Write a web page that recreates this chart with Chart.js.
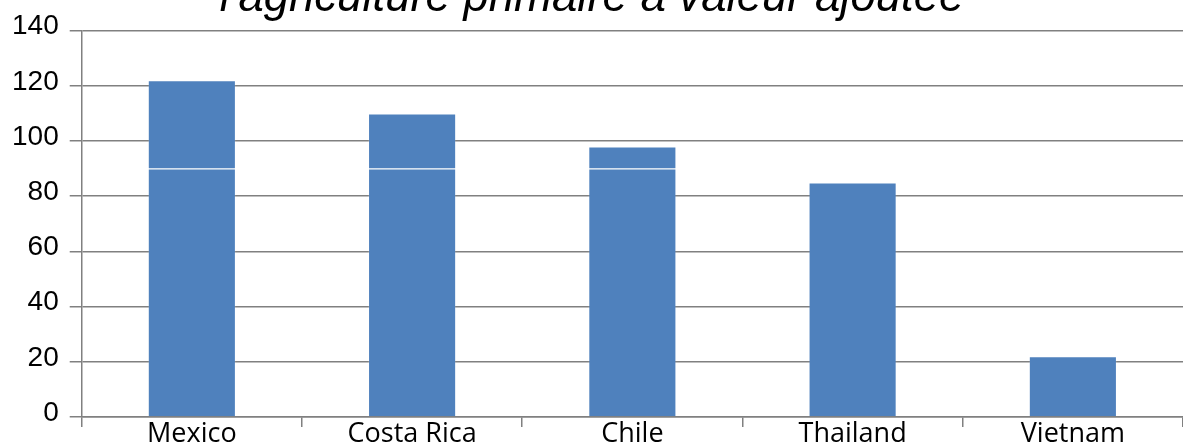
<!DOCTYPE html>
<html>
<head>
<meta charset="utf-8">
<script src="https://cdn.jsdelivr.net/npm/chart.js@4/dist/chart.umd.min.js"></script>
<style>
  html, body { margin: 0; padding: 0; background: #fff; }
  #wrap { width: 1183px; height: 445px; position: relative; overflow: hidden; }
</style>
</head>
<body>
<div id="wrap"><canvas id="chart"></canvas></div>
<script>
const titleText = "l'agriculture primaire à valeur ajoutée";
const countries = ['Mexico', 'Costa Rica', 'Chile', 'Thailand', 'Vietnam'];
// bars are drawn in two stacked parts, split at 90 like the original
const lowerPart = [90, 90, 90, 85, 22];
const upperPart = [32, 20, 8, 0, 0];
const yTicks = [0, 20, 40, 60, 80, 100, 120, 140];

const barColor = '#4f81bd';
const edgeColor = 'rgba(255,255,255,0.12)';
const gridColor = '#808080';

new Chart(document.getElementById('chart'), {
  type: 'bar',
  data: {
    labels: countries,
    datasets: [
      {
        data: lowerPart,
        backgroundColor: barColor,
        borderColor: edgeColor,
        borderWidth: { top: 1, left: 1, right: 1, bottom: 0 },
        borderSkipped: false,
      },
      {
        data: upperPart,
        backgroundColor: barColor,
        borderColor: edgeColor,
        borderWidth: { top: 1, left: 1, right: 1, bottom: 0 },
        borderSkipped: false,
      },
    ],
  },
  options: {
    responsive: true,
    maintainAspectRatio: false,
    animation: false,
    layout: { padding: { left: 1, right: 0, top: 0, bottom: -17 } },
    datasets: {
      bar: { categoryPercentage: 1, barPercentage: 0.4 },
    },
    plugins: {
      legend: { display: false },
      tooltip: { enabled: false },
      title: {
        display: true,
        text: titleText,
        color: '#000',
        font: { family: 'Liberation Sans', size: 45.5, style: 'italic', weight: 'normal' },
        padding: { top: -29, bottom: 5 },
      },
    },
    scales: {
      x: {
        stacked: true,
        // fixed axis height so the labels are not clipped by the axis box
        afterFit: (axis) => { axis.height = 45; },
        grid: {
          offset: true,
          drawOnChartArea: false,
          color: gridColor,
          lineWidth: 1.5,
          tickLength: 10,
        },
        border: { color: gridColor, width: 1.5 },
        ticks: {
          color: '#000',
          padding: -9,
          font: { family: 'Open Sans', size: 27 },
          maxRotation: 0,
        },
      },
      y: {
        stacked: true,
        min: 0,
        max: 140,
        afterBuildTicks: (axis) => {
          axis.ticks = yTicks.map((v) => ({ value: v }));
        },
        grid: { color: gridColor, tickLength: 12, lineWidth: 1.5 },
        border: { color: gridColor, width: 1.5 },
        ticks: {
          color: '#000',
          padding: 11,
          labelOffset: -4,
          font: { family: 'Liberation Sans', size: 28 },
        },
      },
    },
  },
});
</script>
</body>
</html>
